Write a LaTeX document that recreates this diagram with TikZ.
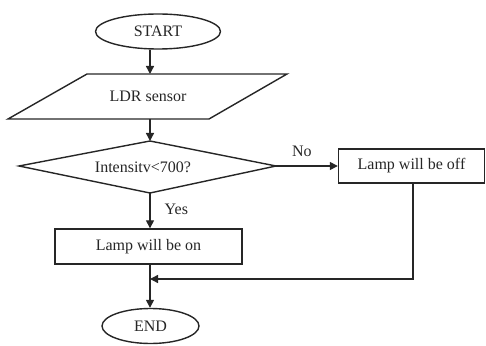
\documentclass[tikz,border=0pt]{standalone}
\usepackage{fontspec}
\setmainfont{Liberation Serif}
\usetikzlibrary{shapes.geometric,arrows.meta}
\begin{document}
\begin{tikzpicture}[x=1pt,y=1pt,
  every node/.style={font=\fontsize{16}{18}\selectfont, text=black!85},
  line/.style={line width=1.4pt, draw=black!85},
  arr/.style={line, -{Triangle[length=8pt,width=8pt]}},
  termbox/.style={line, ellipse, inner sep=0pt},
  procbox/.style={line, rectangle, inner sep=0pt}]
\useasboundingbox (0,0) rectangle (486,345);
% column coordinate
\coordinate (col) at (150,0);
% START
\node[termbox, minimum width=125pt, minimum height=35pt] (start) at (158,313.5) {START};
% LDR sensor parallelogram
\coordinate (pTL) at (87,271);
\coordinate (pTR) at (287,271);
\coordinate (pBR) at (209,226);
\coordinate (pBL) at (8,226);
\draw[line] (pTL) -- (pTR) -- (pBR) -- (pBL) -- cycle;
\node (ldr) at (148,248.5) {LDR sensor};
% decision diamond
\coordinate (dT) at (150,204);
\coordinate (dR) at (276,179);
\coordinate (dB) at (150,152);
\coordinate (dL) at (19,179);
\draw[line] (dT) -- (dR) -- (dB) -- (dL) -- cycle;
\node (dec) at (143,178) {Intensitv<700?};
% boxes
\node[procbox, minimum width=146pt, minimum height=34pt] (off) at (411.5,179) {Lamp will be off};
\node[procbox, minimum width=187pt, minimum height=35pt] (on) at (148.5,98.5) {Lamp will be on};
% END
\node[termbox, minimum width=97pt, minimum height=35pt] (end) at (150.5,19) {END};
% connectors
\draw[arr] (start.south -| col) -- (pTL -| col);
\draw[arr] (pBL -| col) -- (dT);
\draw[arr] (dR) -- (dR -| off.west) node[pos=0.42, above=9pt, inner sep=0pt] (no) {No};
\draw[arr] (dB) -- (on.north -| col) node[pos=0.45, right=14pt, inner sep=0pt] (yes) {Yes};
\draw[arr] (on.south -| col) -- (end.north -| col);
\coordinate (ret) at (413,66);
\draw[arr] (off.south -| ret) -- (ret) -- (ret -| col);
\end{tikzpicture}
\end{document}
